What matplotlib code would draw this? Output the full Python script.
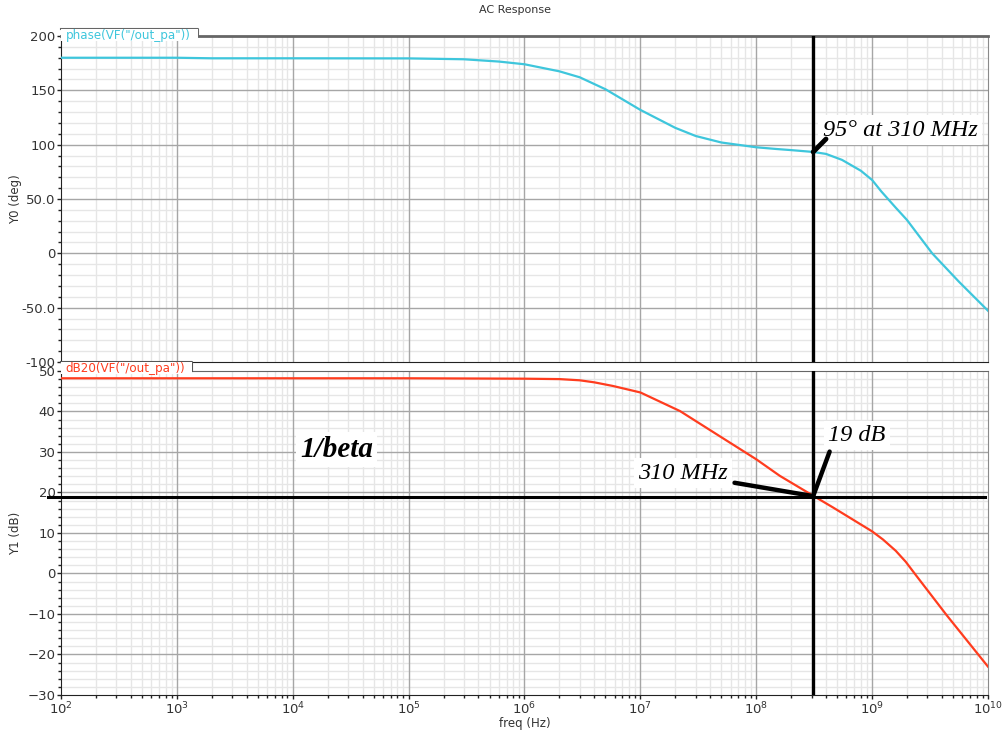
import numpy as np
import matplotlib.pyplot as plt
from matplotlib.ticker import LogLocator, MultipleLocator, NullFormatter
from matplotlib.patches import Rectangle
from matplotlib.lines import Line2D

# phase(VF("/out_pa"))
freq_phase = [1e2, 1e3, 2e3, 1e4, 1e5, 3e5, 6e5, 1e6, 2e6, 3e6, 5e6, 1e7, 2e7, 3e7,
              5e7, 1e8, 1.5e8, 2e8, 3.1e8, 4e8, 5.5e8, 8e8, 1e9, 1.2e9, 1.6e9,
              2e9, 3.3e9, 5.6e9, 1e10]
phase_deg = [180.0, 180.0, 179.5, 179.5, 179.4, 178.6, 176.5, 174.0, 167.5, 162.0,
             151.0, 132.0, 115.5, 108.0, 102.0, 97.6, 96.0, 95.0, 93.3, 91.5, 86.0,
             76.0, 67.5, 57.0, 42.0, 30.7, 0.0, -26.0, -52.8]

# dB20(VF("/out_pa"))
freq_mag = [1e2, 1e3, 1e4, 1e5, 1e6, 2e6, 3e6, 4e6, 5.8e6, 1e7, 2.2e7, 4.9e7, 1e8,
            1.6e8, 3.1e8, 4.6e8, 1e9, 1.24e9, 1.6e9, 1.95e9, 2.4e9, 4.4e9, 1e10]
mag_db = [48.2, 48.2, 48.2, 48.2, 48.1, 48.0, 47.7, 47.2, 46.3, 44.7, 40.1, 33.8,
          28.2, 24.1, 19.2, 16.3, 10.4, 8.4, 5.6, 2.9, -0.5, -10.3, -23.0]

f_cross = 310e6    # 310 MHz
beta_db = 19       # 1/beta level

cyan = '#3ec6dc'
red = '#ff3c1e'
major_grid = '#a6a6a6'
minor_grid = '#e6e6e6'
serif = ['Liberation Serif', 'DejaVu Serif']

fig = plt.figure(figsize=(10.07, 7.38), dpi=100)
ax0 = fig.add_axes([0.0606, 0.5095, 0.9205, 0.4417])
ax1 = fig.add_axes([0.0606, 0.0583, 0.9205, 0.4390])

def style_axis(ax, ylim, major, minor):
    ax.set_xscale('log')
    ax.set_xlim(1e2, 1e10)
    ax.set_ylim(*ylim)
    ax.xaxis.set_major_locator(LogLocator(base=10, numticks=20))
    ax.xaxis.set_minor_locator(LogLocator(base=10, subs=np.arange(2, 10), numticks=20))
    ax.xaxis.set_minor_formatter(NullFormatter())
    ax.yaxis.set_major_locator(MultipleLocator(major))
    ax.yaxis.set_minor_locator(MultipleLocator(minor))
    ax.grid(True, which='minor', color=minor_grid, lw=1.0)
    ax.set_axisbelow(True)
    # major grid drawn on top of the minor one
    for t in ax.get_xticks():
        if 1e2 < t < 1e10:
            ax.axvline(t, color=major_grid, lw=1.0, zorder=0.8)
    for t in ax.get_yticks():
        if ylim[0] < t < ylim[1]:
            ax.axhline(t, color=major_grid, lw=1.0, zorder=0.8)
    ax.tick_params(which='major', direction='out', length=3, width=1, colors='#222222',
                   labelcolor='#333333', labelsize=9.5, pad=1)
    ax.tick_params(which='minor', direction='out', length=2, width=1, colors='#222222')
    for s in ['left', 'bottom']:
        ax.spines[s].set_color('#222222')
    ax.spines['right'].set_color('#8a8a8a')
    ax.spines['top'].set_color('#666666')

style_axis(ax0, (-100, 200), 50, 10)
style_axis(ax1, (-30, 50), 10, 2)
ax0.spines['top'].set_linewidth(2)
ax0.tick_params(axis='x', labelbottom=False, length=0, which='both')
ax0.set_yticks([-100, -50, 0, 50, 100, 150, 200])
ax0.set_yticklabels(['-100', '-50.0', '0', '50.0', '100', '150', '200'])

ax0.plot(freq_phase, phase_deg, color=cyan, lw=1.6, zorder=3)
ax1.plot(freq_mag, mag_db, color=red, lw=1.6, zorder=3)

# crossover markers
ax0.axvline(f_cross, color='black', lw=2.4, zorder=4)
ax1.axvline(f_cross, color='black', lw=2.4, zorder=4)
ax1.plot([-0.014, 0.997], [beta_db, beta_db], color='black', lw=2.2, zorder=4,
         transform=ax1.get_yaxis_transform(), clip_on=False)

ax0.set_ylabel('Y0 (deg)', fontsize=8.5, color='#333333')
ax1.set_ylabel('Y1 (dB)', fontsize=8.5, color='#333333')
ax1.set_xlabel('freq (Hz)', fontsize=8.5, color='#333333', labelpad=0)
ax0.yaxis.set_label_coords(-0.042, 0.5)
ax1.yaxis.set_label_coords(-0.042, 0.5)
fig.text(0.511, 0.986, 'AC Response', ha='center', va='center', fontsize=8, color='#333333')

# trace name tabs (white tab with top and right border only)
def tab(x0, x1, ytop, ybot, ybase, label, color, edge):
    fig.patches.append(Rectangle((x0, ybot), x1 - x0, ytop - ybot, transform=fig.transFigure,
                                 facecolor='white', edgecolor='none', zorder=5))
    fig.add_artist(Line2D([x0, x1, x1], [ytop, ytop, ybase], color=edge, lw=1.5, zorder=5))
    fig.text(x0 + 0.0045, (ytop + ybot) / 2, label, color=color, fontsize=8.6,
             ha='left', va='center', zorder=6)

tab(0.0606, 0.1966, 0.9607, 0.9440, 0.9512, 'phase(VF("/out_pa"))', cyan, '#666666')
tab(0.0606, 0.1906, 0.5095, 0.4930, 0.4973, 'dB20(VF("/out_pa"))', red, '#555555')

# hand-drawn annotations
box = dict(facecolor='white', edgecolor='none', pad=3)
ax0.text(1.74e9, 113.5, '95° at 310 MHz', family=serif, style='italic', fontsize=17.5,
         ha='center', va='center', bbox=box, zorder=5)
ax0.plot([f_cross, 4.0e8], [93.3, 105.2], color='black', lw=3.5,
         solid_capstyle='round', zorder=6)

ax1.text(2.4e4, 30.7, '1/beta', family=serif, style='italic', weight='bold', fontsize=21,
         ha='center', va='center', bbox=box, zorder=5)
ax1.text(2.35e7, 24.8, '310 MHz', family=serif, style='italic', fontsize=17.5,
         ha='center', va='center', bbox=box, zorder=5)
ax1.plot([6.5e7, f_cross], [22.4, 19.1], color='black', lw=3.2,
         solid_capstyle='round', zorder=6)
ax1.text(7.4e8, 34.0, '19 dB', family=serif, style='italic', fontsize=17.5,
         ha='center', va='center', bbox=box, zorder=5)
ax1.plot([4.3e8, f_cross], [30.1, 19.1], color='black', lw=3.2,
         solid_capstyle='round', zorder=6)

fig.savefig('out.png', dpi=100)
